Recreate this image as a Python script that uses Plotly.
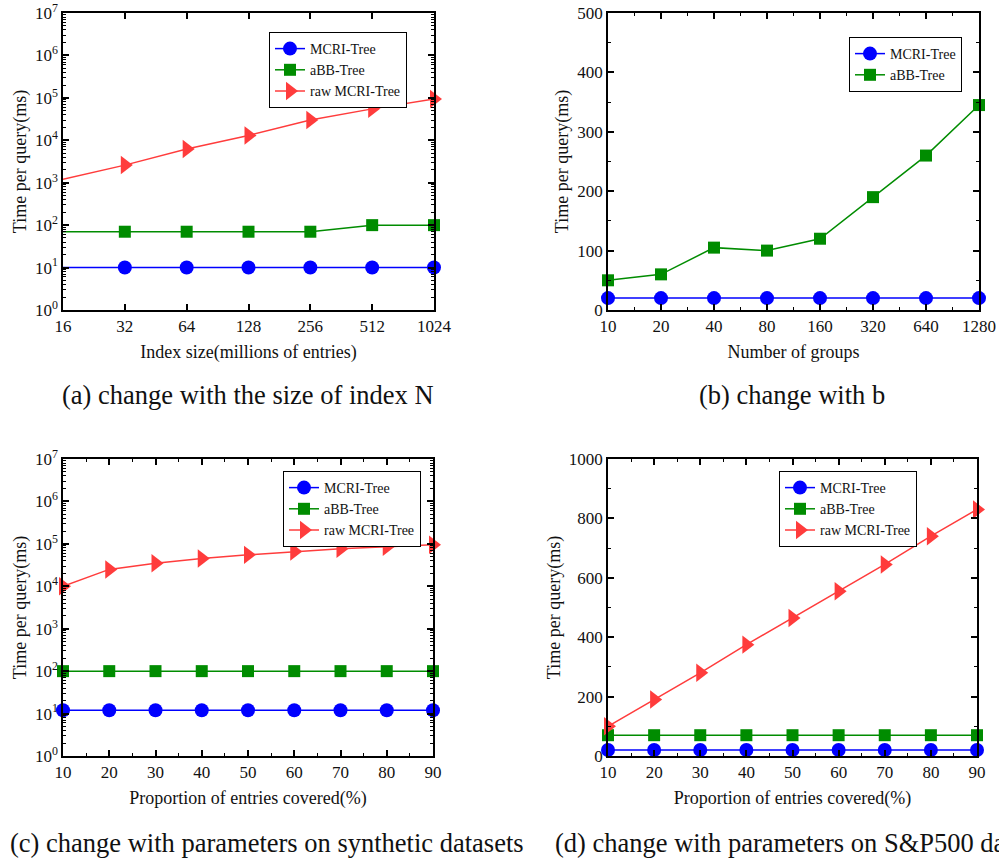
import math
import plotly.graph_objects as go

# ---------------- data ----------------
a_x = [16, 32, 64, 128, 256, 512, 1024]
a_mcri = [10, 10, 10, 10, 10, 10, 10]
a_abb = [70, 70, 70, 70, 70, 100, 100]
a_raw = [1200, 2600, 6200, 13000, 30000, 55000, 94000]

b_x = [10, 20, 40, 80, 160, 320, 640, 1280]
b_mcri = [20, 20, 20, 20, 20, 20, 20, 20]
b_abb = [50, 60, 105, 100, 120, 190, 260, 345]

c_x = [10, 20, 30, 40, 50, 60, 70, 80, 90]
c_mcri = [12, 12, 12, 12, 12, 12, 12, 12, 12]
c_abb = [100, 100, 100, 100, 100, 100, 100, 100, 100]
c_raw = [10000, 25000, 35000, 45000, 55000, 66000, 77000, 86000, 95000]

d_x = [10, 20, 30, 40, 50, 60, 70, 80, 90]
d_mcri = [20, 20, 20, 20, 20, 20, 20, 20, 20]
d_abb = [70, 70, 70, 70, 70, 70, 70, 70, 70]
d_raw = [100, 190, 280, 375, 465, 555, 645, 740, 830]

names = ["MCRI-Tree", "aBB-Tree", "raw MCRI-Tree"]
log_ticks = [10 ** k for k in range(8)]
log_text = ["10<sup>%d</sup>" % k for k in range(8)]

x_titles = ["Index size(millions of entries)", "Number of groups",
            "Proportion of entries covered(%)", "Proportion of entries covered(%)"]
y_title = "Time per query(ms)"
captions = ["(a) change with the size of index N", "(b) change with b",
            "(c) change with parameters on synthetic datasets",
            "(d) change with parameters on S&P500 datasets"]

# ---------------- style ----------------
FONT = "Liberation Serif, Times New Roman, serif"
BLUE = "#0000FF"
GREEN = "#008C00"
RED = "#FF3C3C"
W, H = 999, 861

fig = go.Figure()

styles = {
    "MCRI-Tree": dict(color=BLUE, symbol="circle", size=14),
    "aBB-Tree": dict(color=GREEN, symbol="square", size=12),
    "raw MCRI-Tree": dict(color=RED, symbol="triangle-right", size=16),
}

def add(x, y, name, xa, ya, legend):
    s = styles[name]
    fig.add_trace(go.Scatter(
        x=x, y=y, name=name, mode="lines+markers",
        line=dict(color=s["color"], width=1.5),
        marker=dict(color=s["color"], symbol=s["symbol"], size=s["size"], line=dict(width=0)),
        xaxis=xa, yaxis=ya, legend=legend, cliponaxis=False,
    ))

add(a_x, a_mcri, names[0], "x", "y", "legend")
add(a_x, a_abb, names[1], "x", "y", "legend")
add(a_x, a_raw, names[2], "x", "y", "legend")
add(b_x, b_mcri, names[0], "x2", "y2", "legend2")
add(b_x, b_abb, names[1], "x2", "y2", "legend2")
add(c_x, c_mcri, names[0], "x3", "y3", "legend3")
add(c_x, c_abb, names[1], "x3", "y3", "legend3")
add(c_x, c_raw, names[2], "x3", "y3", "legend3")
add(d_x, d_mcri, names[0], "x4", "y4", "legend4")
add(d_x, d_abb, names[1], "x4", "y4", "legend4")
add(d_x, d_raw, names[2], "x4", "y4", "legend4")

def fx(px):
    return px / W

def fy(py):
    return 1 - py / H

def px_x(a, b):
    return [fx(a), fx(b)]

def px_y(top, bottom):
    return [fy(bottom), fy(top)]

base_axis = dict(
    showline=True, linecolor="black", linewidth=1.5, mirror="ticks",
    ticks="inside", ticklen=6, tickwidth=1.5, tickcolor="black",
    showgrid=False, zeroline=False, automargin=False,
    ticklabeloverflow="allow",
    tickfont=dict(family=FONT, size=17, color="#111"),
    title_font=dict(family=FONT, size=18, color="#111"),
)

dom_x = [px_x(63, 434), px_x(608, 979), px_x(63, 433), px_x(608, 977)]
dom_y = [px_y(13, 310), px_y(13, 310), px_y(459, 756), px_y(459, 756)]

b_minor = [math.sqrt(b_x[i] * b_x[i + 1]) for i in range(len(b_x) - 1)]
mk = dict(ticks="inside", ticklen=3, tickcolor="black", tickwidth=1.2, showgrid=False)

xaxes = [
    dict(type="log", range=[math.log10(16), math.log10(1024)], tickvals=a_x,
         ticktext=[str(v) for v in a_x]),
    dict(type="log", range=[math.log10(10), math.log10(1280)], tickvals=b_x,
         ticktext=[str(v) for v in b_x], minor=dict(tickvals=b_minor, **mk)),
    dict(range=[10, 90], tickvals=c_x, minor=dict(dtick=5, **mk)),
    dict(range=[10, 90], tickvals=d_x, minor=dict(dtick=5, **mk)),
]
yaxes = [
    dict(type="log", range=[0, 7], tickvals=log_ticks, ticktext=log_text, minor=dict(dtick="D1", **mk)),
    dict(range=[0, 500], dtick=100, minor=dict(dtick=50, **mk)),
    dict(type="log", range=[0, 7], tickvals=log_ticks, ticktext=log_text, minor=dict(dtick="D1", **mk)),
    dict(range=[0, 1000], dtick=200, minor=dict(dtick=100, **mk)),
]

layout = {}
for i in range(4):
    sx = "" if i == 0 else str(i + 1)
    xa = dict(base_axis)
    xa.update(xaxes[i])
    xa.update(domain=dom_x[i], anchor="y" + sx,
              title=dict(text=x_titles[i], standoff=10))
    ya = dict(base_axis)
    ya.update(yaxes[i])
    ya.update(domain=dom_y[i], anchor="x" + sx,
              title=dict(text=y_title, standoff=4))
    layout["xaxis" + sx] = xa
    layout["yaxis" + sx] = ya

legend_pos = [(269, 32), (849, 37), (283, 471), (779, 471)]
for i, (lx, ly) in enumerate(legend_pos):
    key = "legend" if i == 0 else "legend%d" % (i + 1)
    layout[key] = dict(
        x=fx(lx), y=fy(ly), xanchor="left", yanchor="top",
        bgcolor="white", bordercolor="black", borderwidth=1,
        font=dict(family=FONT, size=14, color="#111"),
        tracegroupgap=0, itemwidth=30,
    )

fig.update_layout(**layout)

cap_pos = [(248, 395, "center"), (792, 395, "center"), (8, 843, "left"), (553, 843, "left")]
for (cx, cy, anc), text in zip(cap_pos, captions):
    fig.add_annotation(
        x=fx(cx), y=fy(cy), xref="paper", yref="paper",
        text=text, showarrow=False, xanchor=anc, yanchor="middle",
        font=dict(family=FONT, size=26.5, color="#111"),
    )

fig.update_layout(
    width=W, height=H,
    margin=dict(l=0, r=0, t=0, b=0, autoexpand=False),
    paper_bgcolor="white", plot_bgcolor="white",
    font=dict(family=FONT, color="#111"),
    hovermode=False,
)

# place the figure at the window's top-left corner (no default body margin)
fig.write_html("out.html",
               config={"displayModeBar": False},
               post_script="document.body.style.margin='0';document.body.style.overflow='hidden';")
